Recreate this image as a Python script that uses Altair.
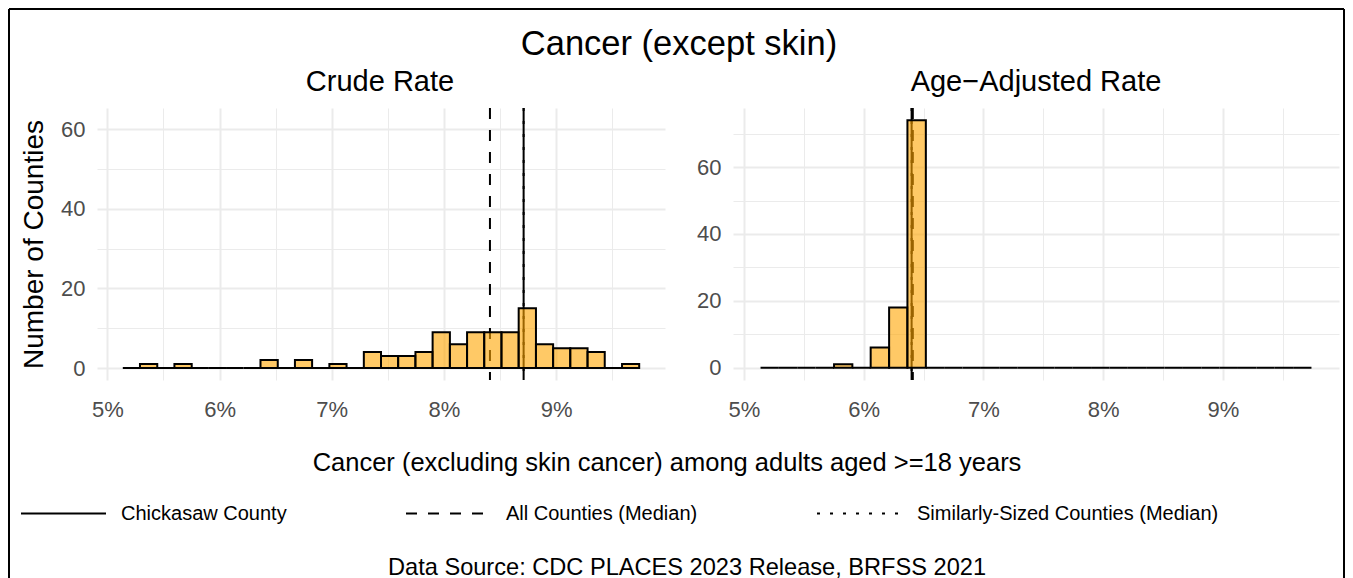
import altair as alt
import pandas as pd

FONT = "Liberation Sans"

TITLE = "Cancer (except skin)"
PANEL_TITLES = ["Crude Rate", "Age\u2212Adjusted Rate"]
Y_TITLE = "Number of Counties"
X_TITLE = "Cancer (excluding skin cancer) among adults aged >=18 years"
CAPTION = "Data Source: CDC PLACES 2023 Release, BRFSS 2021"

# histogram bin edges (percent), 30 bins shared by both panels
BIN_EDGES = [5.138, 5.291, 5.445, 5.598, 5.752, 5.905, 6.058, 6.212, 6.365, 6.519,
             6.672, 6.825, 6.979, 7.132, 7.286, 7.439, 7.592, 7.746, 7.899, 8.053,
             8.206, 8.359, 8.513, 8.666, 8.820, 8.973, 9.126, 9.280, 9.433, 9.587,
             9.740]
CRUDE_COUNTS = [0, 1, 0, 1, 0, 0, 0, 0, 2, 0,
                2, 0, 1, 0, 4, 3, 3, 4, 9, 6,
                9, 9, 9, 15, 6, 5, 5, 4, 0, 1]
ADJ_COUNTS = [0, 0, 0, 0, 1, 0, 6, 18, 74, 0,
              0, 0, 0, 0, 0, 0, 0, 0, 0, 0,
              0, 0, 0, 0, 0, 0, 0, 0, 0, 0]

LINE_TYPES = ["Chickasaw County", "All Counties (Median)", "Similarly-Sized Counties (Median)"]
CRUDE_LINES = [8.71, 8.41, 8.71]
ADJ_LINES = [6.40, 6.41, 6.40]

X_TICKS = [5, 5.5, 6, 6.5, 7, 7.5, 8, 8.5, 9, 9.5]
X_DOMAIN = [4.908, 9.970]
Y_TICKS_LEFT = [0, 10, 20, 30, 40, 50, 60]
Y_TICKS_RIGHT = [0, 10, 20, 30, 40, 50, 60, 70]
Y_DOMAIN_LEFT = [-3.0, 65.3]
Y_DOMAIN_RIGHT = [-3.7, 77.7]

GRID = "#EBEBEB"
LABEL_GRAY = "#4D4D4D"


def x_axis():
    return alt.Axis(values=X_TICKS,
                    labelExpr="datum.value % 1 == 0 ? format(datum.value, 'd') + '%' : ''",
                    grid=True, gridColor=GRID,
                    gridWidth={"condition": {"test": "datum.value % 1 != 0", "value": 1}, "value": 2},
                    ticks=False, domain=False, labelFontSize=22, labelColor=LABEL_GRAY,
                    labelFont=FONT, labelPadding=19, labelFlush=False, labelOverlap=False,
                    title=None)


def y_axis(values, title):
    kw = dict(values=values,
              labelExpr="datum.value % 20 == 0 ? format(datum.value, 'd') : ''",
              grid=True, gridColor=GRID,
              gridWidth={"condition": {"test": "datum.value % 20 != 0", "value": 1}, "value": 2},
              ticks=False, domain=False, labelFontSize=22, labelColor=LABEL_GRAY,
              labelFont=FONT, labelPadding=12, labelFlush=False, labelOverlap=False)
    if title:
        kw.update(title=title, titleFontSize=28, titleColor="black", titleFont=FONT,
                  titleFontWeight="normal", titlePadding=12)
    else:
        kw.update(title=None)
    return alt.Axis(**kw)


def panel(counts, lines, ydomain, yvalues, ytitle, legend):
    xs = alt.Scale(domain=X_DOMAIN, nice=False, zero=False)
    ys = alt.Scale(domain=ydomain, nice=False, zero=False)
    bars_df = pd.DataFrame({"lo": BIN_EDGES[:-1], "hi": BIN_EDGES[1:], "n": counts})
    lines_df = pd.DataFrame({"type": LINE_TYPES, "v": lines})
    dash_scale = alt.Scale(domain=LINE_TYPES, range=[[1, 0], [11, 11], [3, 10]])
    rules = alt.Chart(lines_df).mark_rule(color="black", strokeWidth=2).encode(
        x=alt.X("v:Q", scale=xs, axis=x_axis()),
        strokeDash=alt.StrokeDash("type:N", scale=dash_scale, legend=legend),
    )
    bars = alt.Chart(bars_df).mark_rect(fill="#FFA500", fillOpacity=0.6,
                                        stroke="black", strokeWidth=2).encode(
        x=alt.X("lo:Q", scale=xs, axis=x_axis()),
        x2="hi:Q",
        y=alt.Y("n:Q", scale=ys, axis=y_axis(yvalues, ytitle)),
        y2=alt.datum(0),
    )
    return [rules, bars]


def label(text, dx, dy, size):
    return alt.Chart(pd.DataFrame({"t": [text]})).mark_text(
        font=FONT, fontSize=size, color="black", align="center", baseline="alphabetic"
    ).encode(text="t:N", x=alt.value(dx), y=alt.value(dy))


def frame_line(**enc):
    return alt.Chart(pd.DataFrame({"k": [0]})).mark_rule(color="black", strokeWidth=2).encode(**enc)


legend = alt.Legend(orient="none", legendX=-77, legendY=362, direction="horizontal",
                    columns=3, gridAlign="none", columnPadding=115, symbolType="stroke",
                    symbolSize=7225, symbolStrokeWidth=2, symbolStrokeColor="black",
                    labelFontSize=20, labelFont=FONT, labelColor="black", labelOffset=14,
                    labelLimit=0, title=None, padding=0)

RIGHT_W = 606

left_layers = panel(CRUDE_COUNTS, CRUDE_LINES, Y_DOMAIN_LEFT, Y_TICKS_LEFT, Y_TITLE, legend)
left_layers += [
    label(TITLE, 582, -53, 34.5),
    label(PANEL_TITLES[0], 283, -17, 29),
    label(PANEL_TITLES[1], 939, -17, 29),
    label(X_TITLE, 570, 363, 25.5),
    label(CAPTION, 590, 467, 23.6),
    frame_line(x=alt.value(-88), y=alt.value(-99), y2=alt.value(592)),
    frame_line(x=alt.value(-88), x2=alt.value(1247), y=alt.value(-99)),
    frame_line(x=alt.value(1247), y=alt.value(-99), y2=alt.value(592)),
]
left = alt.layer(*left_layers).properties(width=568, height=272)

right = alt.layer(*panel(ADJ_COUNTS, ADJ_LINES, Y_DOMAIN_RIGHT, Y_TICKS_RIGHT, None, None)
                  ).properties(width=RIGHT_W, height=272)

chart = alt.hconcat(left, right, spacing=68, bounds="flush").resolve_scale(
    strokeDash="independent", x="independent", y="independent"
).resolve_legend(strokeDash="independent").properties(padding=0).configure(
    font=FONT
).configure_view(stroke=None)

chart.save("out.html", embed_options={"renderer": "svg", "actions": False})
